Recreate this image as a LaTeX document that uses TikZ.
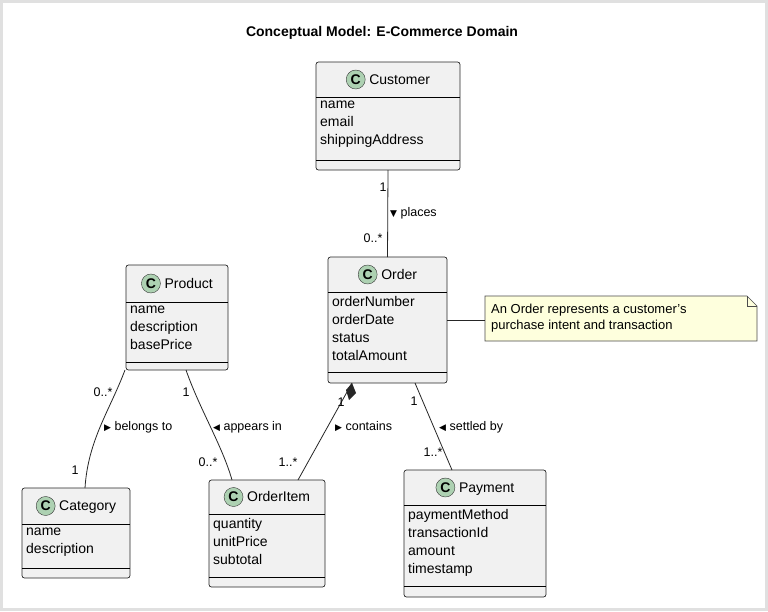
\documentclass[tikz,border=0pt]{standalone}
\usepackage{fontspec}
\setmainfont{Liberation Sans}
\newfontfamily\dv{DejaVu Sans}
\definecolor{boxfill}{HTML}{F1F1F1}
\definecolor{cgreen}{HTML}{ADD1B2}
\definecolor{notefill}{HTML}{FEFFDD}
\newcommand\clogo{\tikz[baseline=-0.65ex]{\node[circle,fill=cgreen,draw=black!80,inner sep=0pt,minimum size=19pt,font=\bfseries\fontsize{14}{14}\selectfont]{C};}}
\newcommand\ucls[9]{%
\node[clsbox,minimum width={(#4-#2)*1pt},minimum height={(#5-#3)*1pt},anchor=north west] (#1) at (#2,#3) {};
\draw[line width=0.6pt] (#2,#6)--(#4,#6);
\draw[line width=0.6pt] (#2,#7)--(#4,#7);
\node[txt] at ({(#2+#4)/2},{(#3+#6)/2}) {\clogo\ #8};
\node[txt,anchor=north west,align=left] at (#2+1,#6+1) {#9};}
\tikzset{
 clsbox/.style={draw=black!85,line width=0.7pt,fill=boxfill,rounded corners=2.5pt,inner sep=0pt,outer sep=0pt},
 txt/.style={font=\fontsize{14}{18}\selectfont,inner sep=3pt},
 lbl/.style={font=\fontsize{12.5}{14}\selectfont,inner sep=1pt},
 conn/.style={draw=black!85,line width=0.8pt},
}
\newcommand\rt{{\dv\fontsize{9}{9}\selectfont ▶}}
\newcommand\lt{{\dv\fontsize{9}{9}\selectfont ◀}}
\newcommand\dn{{\dv\fontsize{9}{9}\selectfont ▼}}
\begin{document}
\begin{tikzpicture}[x=1pt,y=-1pt]
\fill[white] (0,0) rectangle (768,611);
\draw[black!12,line width=3pt] (1.5,1.5) rectangle (766.5,609.5);
\useasboundingbox (0,0) rectangle (768,611);
\node[font=\bfseries\fontsize{14}{14}\selectfont] (title) at (382,33) {Conceptual Model: E-Commerce Domain};

\ucls{cust}{316}{62}{460}{170}{97}{160}{Customer}{name\\email\\shippingAddress}
\ucls{order}{328}{257}{447}{383}{292}{372}{Order}{orderNumber\\orderDate\\status\\totalAmount}
\ucls{prod}{126}{265}{228}{370}{302}{362}{Product}{name\\description\\basePrice}
\ucls{cat}{22}{488}{130}{578}{524}{568}{Category}{name\\description}
\ucls{item}{209}{480}{325}{587}{514}{577}{OrderItem}{quantity\\unitPrice\\subtotal}
\ucls{pay}{404}{470}{546}{597}{505}{586}{Payment}{paymentMethod\\transactionId\\amount\\timestamp}

% note
\coordinate (n1) at (485,296);
\draw[draw=black!70,fill=notefill,line width=0.6pt] (485,296) -- (747,296) -- (757,306) -- (757,341) -- (485,341) -- cycle;
\draw[draw=black!70,line width=0.6pt] (747,296) -- (747,306) -- (757,306);
\node[anchor=north west,align=left,font=\fontsize{13}{16}\selectfont,inner sep=0pt] (note) at (491,304) {An Order represents a customer's\\purchase intent and transaction};
\coordinate (nl) at (485,320);
\draw[conn,line width=0.6pt] (order.east |- nl) -- (nl);

% connectors
\draw[conn] (cust.south) -- (order.north);
\node[lbl] at (383,187) {1};
\node[lbl] at (373,238) {0..*};
\node[lbl,anchor=west] at (389,213) {\dn\ places};

\coordinate (pc1) at (125,370); \coordinate (pc2) at (85,488);
\draw[conn] (pc1) .. controls (110,410) and (88,440) .. (pc2);
\node[lbl] at (103,392) {0..*};
\node[lbl] at (75,470) {1};
\node[lbl,anchor=west] at (103,427) {\rt\ belongs to};

\coordinate (pi1) at (186,370); \coordinate (pi2) at (232,480);
\draw[conn] (pi1) .. controls (200,410) and (222,445) .. (pi2);
\node[lbl] at (186,392) {1};
\node[lbl] at (208,462) {0..*};
\node[lbl,anchor=west] at (212,427) {\lt\ appears in};

\coordinate (oi1) at (352,383); \coordinate (oi2) at (298,480);
\draw[conn] (oi1) -- (oi2);
\fill[black!85] (352,383) -- (356,393) -- (349,400) -- (346,390) -- cycle;
\node[lbl] at (341,402) {1};
\node[lbl] at (288,462) {1..*};
\node[lbl,anchor=west] at (334,427) {\rt\ contains};

\coordinate (op1) at (415,383); \coordinate (op2) at (452,470);
\draw[conn] (op1) -- (op2);
\node[lbl] at (414,401) {1};
\node[lbl] at (433,452) {1..*};
\node[lbl,anchor=west] at (438,427) {\lt\ settled by};
\end{tikzpicture}
\end{document}
